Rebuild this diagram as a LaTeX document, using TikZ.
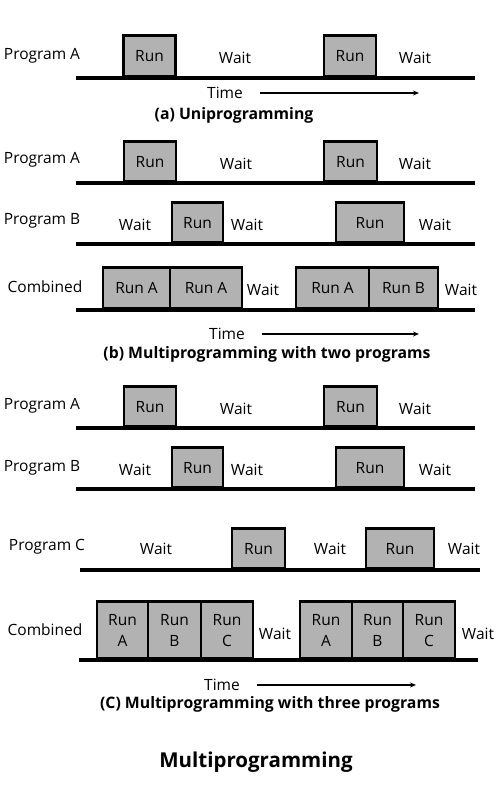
\documentclass[tikz,border=0pt]{standalone}
\usepackage{fontspec}
\setmainfont{Open Sans}
\usetikzlibrary{arrows.meta}
\tikzset{
  tline/.style={line width=3.6pt},
  runbox/.style={draw, line width=2.6pt, fill=black!30, inner sep=0pt, anchor=south,
    font=\fontsize{15.5}{21}\selectfont, align=center},
  lbl/.style={inner sep=0pt, font=\fontsize{15.5}{19}\selectfont},
  captxt/.style={inner sep=0pt, font=\bfseries\fontsize{15.8}{19}\selectfont},
  timearrow/.style={line width=1.1pt, -{Stealth[length=6pt,width=5pt]}}
}
\begin{document}
\begin{tikzpicture}[x=1pt,y=-1pt]
\useasboundingbox (0,0) rectangle (500,800);

% ---------------- (a) ----------------
\coordinate (a0) at (76,78); \coordinate (a1) at (475,78);
\draw[tline] (a0) -- (a1);
\node (aR1) [runbox, minimum width=52, minimum height=41] at (149.5,78) {Run};
\node (aR2) [runbox, minimum width=52, minimum height=41] at (350,78) {Run};
\node (aPA) [lbl] at (42,56) {Program A};
\node (aW1) [lbl] at (235,58) {Wait};
\node (aW2) [lbl] at (415,58) {Wait};
\node (aT) [lbl] at (225,93) {Time};
\coordinate (aT0) at (260,93); \coordinate (aT1) at (419,93);
\draw[timearrow] (aT0) -- (aT1);
\node (aC) [captxt] at (234,115) {(a) Uniprogramming};

% ---------------- (b) ----------------
\coordinate (bA0) at (76,183); \coordinate (bA1) at (475,183);
\draw[tline] (bA0) -- (bA1);
\node (bAR1) [runbox, minimum width=52, minimum height=40] at (150,183) {Run};
\node (bAR2) [runbox, minimum width=53, minimum height=40] at (350.5,183) {Run};
\node (bPA) [lbl] at (42,160) {Program A};
\node (bAW1) [lbl] at (236,164) {Wait};
\node (bAW2) [lbl] at (415,164) {Wait};

\coordinate (bB0) at (76,244); \coordinate (bB1) at (475,244);
\draw[tline] (bB0) -- (bB1);
\node (bBR1) [runbox, minimum width=51, minimum height=40] at (197.5,244) {Run};
\node (bBR2) [runbox, minimum width=68, minimum height=40] at (370,244) {Run};
\node (bPB) [lbl] at (42,221) {Program B};
\node (bBW1) [lbl] at (135,225) {Wait};
\node (bBW2) [lbl] at (247,225) {Wait};
\node (bBW3) [lbl] at (435,225) {Wait};

\coordinate (bC0) at (76,310); \coordinate (bC1) at (475,310);
\draw[tline] (bC0) -- (bC1);
\node (bCR1) [runbox, minimum width=67, minimum height=41] at (136.5,310) {Run A};
\node (bCR2) [runbox, minimum width=72, minimum height=41] at (206,310) {Run A};
\node (bCR3) [runbox, minimum width=73, minimum height=41] at (332.5,310) {Run A};
\node (bCR4) [runbox, minimum width=69, minimum height=41] at (403.5,310) {Run B};
\node (bPC) [lbl] at (45,287) {Combined};
\node (bCW1) [lbl] at (263,290) {Wait};
\node (bCW2) [lbl] at (461,290) {Wait};

\node (bT) [lbl] at (227,334) {Time};
\coordinate (bT0) at (262,334); \coordinate (bT1) at (419,334);
\draw[timearrow] (bT0) -- (bT1);
\node (bCap) [captxt] at (267,354) {(b) Multiprogramming with two programs};

% ---------------- (c) ----------------
\coordinate (cA0) at (76,428); \coordinate (cA1) at (475,428);
\draw[tline] (cA0) -- (cA1);
\node (cAR1) [runbox, minimum width=52, minimum height=40] at (150,428) {Run};
\node (cAR2) [runbox, minimum width=53, minimum height=40] at (350.5,428) {Run};
\node (cPA) [lbl] at (42,406) {Program A};
\node (cAW1) [lbl] at (236,409) {Wait};
\node (cAW2) [lbl] at (415,409) {Wait};

\coordinate (cB0) at (76,489); \coordinate (cB1) at (475,489);
\draw[tline] (cB0) -- (cB1);
\node (cBR1) [runbox, minimum width=51, minimum height=40] at (197.5,489) {Run};
\node (cBR2) [runbox, minimum width=68, minimum height=40] at (370,489) {Run};
\node (cPB) [lbl] at (42,468) {Program B};
\node (cBW1) [lbl] at (135,470) {Wait};
\node (cBW2) [lbl] at (247,470) {Wait};
\node (cBW3) [lbl] at (435,470) {Wait};

\coordinate (cC0) at (80,570); \coordinate (cC1) at (480,570);
\draw[tline] (cC0) -- (cC1);
\node (cCR1) [runbox, minimum width=53, minimum height=40] at (258.5,570) {Run};
\node (cCR2) [runbox, minimum width=68, minimum height=40] at (400,570) {Run};
\node (cPC) [lbl] at (47,547) {Program C};
\node (cCW1) [lbl] at (156,549) {Wait};
\node (cCW2) [lbl] at (330,549) {Wait};
\node (cCW3) [lbl] at (464,549) {Wait};

\coordinate (cD0) at (79,660); \coordinate (cD1) at (478,660);
\draw[tline] (cD0) -- (cD1);
\node (cDR1) [runbox, minimum width=51, minimum height=57] at (122.5,660) {Run\\A};
\node (cDR2) [runbox, minimum width=53, minimum height=57] at (174.5,660) {Run\\B};
\node (cDR3) [runbox, minimum width=52, minimum height=57] at (227,660) {Run\\C};
\node (cDR4) [runbox, minimum width=52, minimum height=57] at (326,660) {Run\\A};
\node (cDR5) [runbox, minimum width=51, minimum height=57] at (377.5,660) {Run\\B};
\node (cDR6) [runbox, minimum width=52, minimum height=57] at (429,660) {Run\\C};
\node (cPD) [lbl] at (45,630) {Combined};
\node (cDW1) [lbl] at (275,634) {Wait};
\node (cDW2) [lbl] at (478,634) {Wait};

\node (cT) [lbl] at (222,685) {Time};
\coordinate (cT0) at (257,685); \coordinate (cT1) at (416,685);
\draw[timearrow] (cT0) -- (cT1);
\node (cCap) [captxt] at (270,704) {(C) Multiprogramming with three programs};

% ---------------- title ----------------
\node (title) [inner sep=0pt, font=\bfseries\fontsize{20.5}{24}\selectfont] at (256,762) {Multiprogramming};
\end{tikzpicture}
\end{document}
